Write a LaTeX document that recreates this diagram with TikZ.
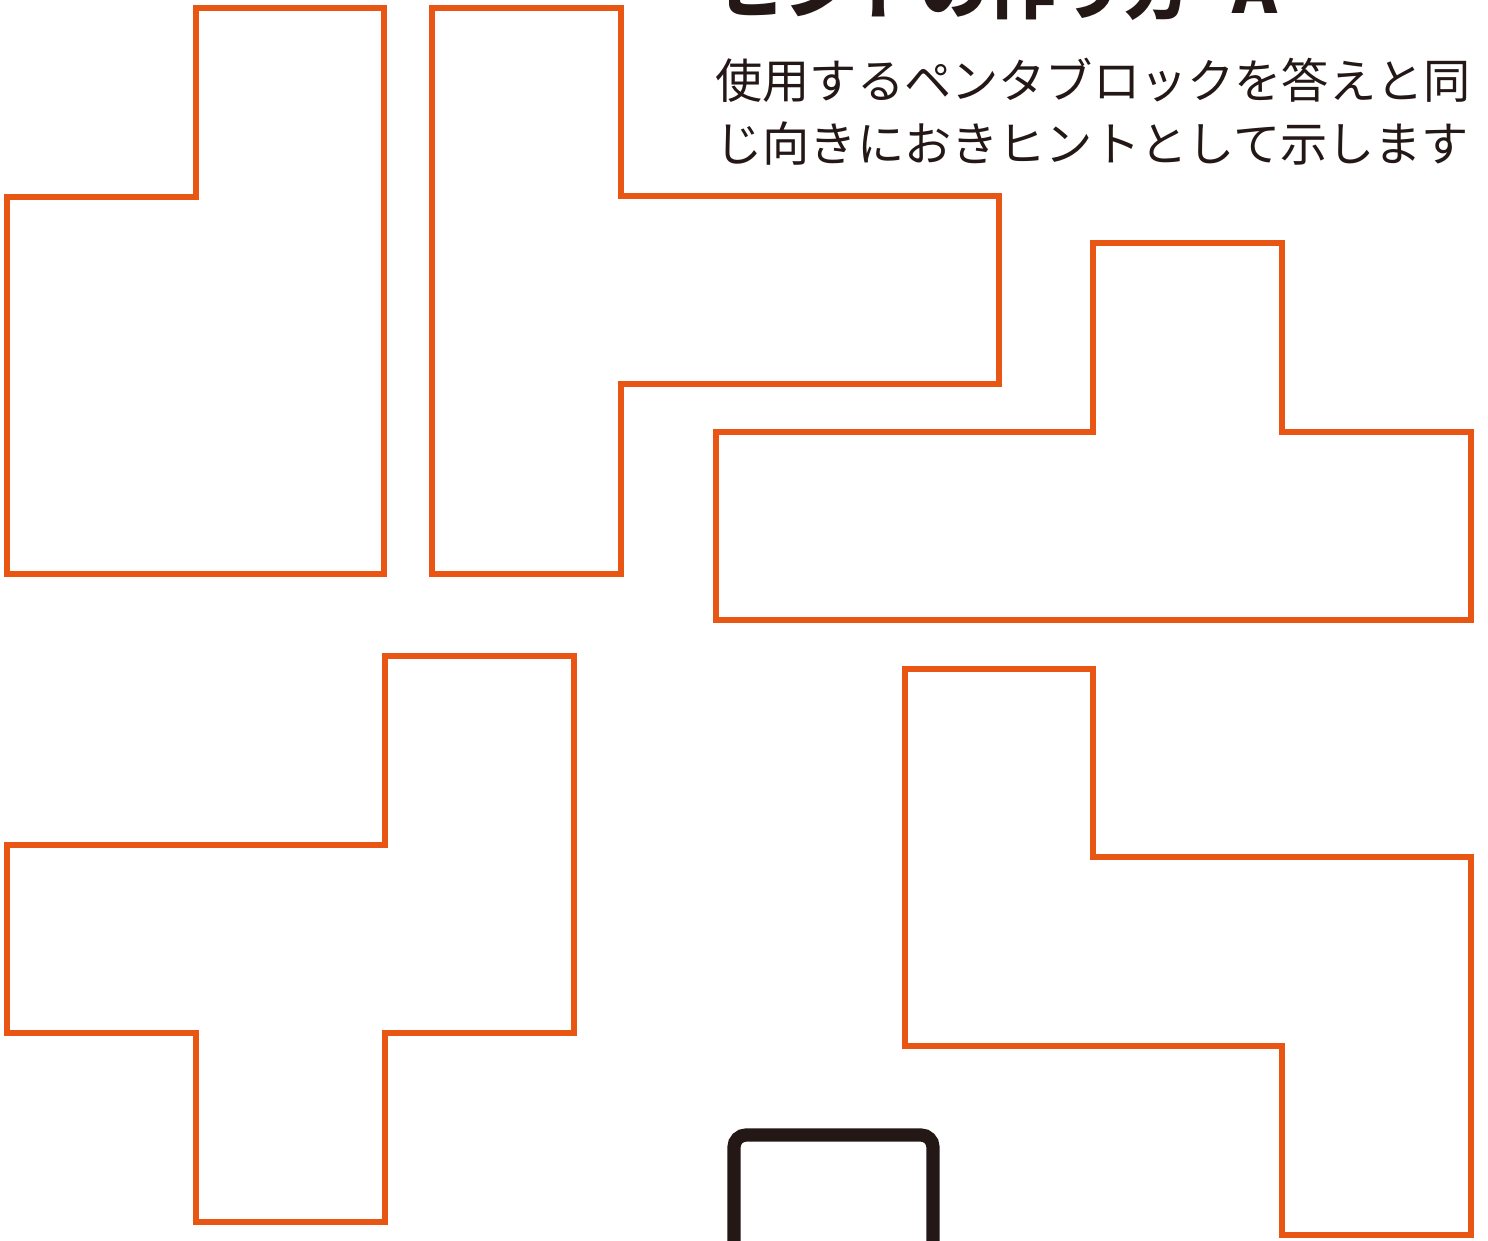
\documentclass[tikz,border=0pt]{standalone}
\usepackage{fontspec}
\newfontfamily\cjk{Noto Sans CJK JP}
\definecolor{pentaorange}{HTML}{E95513}
\definecolor{inkblack}{HTML}{231815}
\tikzset{
  piece/.style={draw=pentaorange, line width=2.6pt, line join=miter},
  hintbox/.style={draw=inkblack, line width=6.6pt, rounded corners=6pt},
  subtext/.style={inner sep=0pt, anchor=base west, text=inkblack, font=\cjk\fontsize{23.6pt}{23.6pt}\selectfont},
  titletext/.style={inner sep=0pt, anchor=base west, text=inkblack, font=\cjk\bfseries\fontsize{34pt}{34pt}\selectfont}
}
\begin{document}
\begin{tikzpicture}[x=0.5pt, y=-0.5pt]
\useasboundingbox (0,0) rectangle (1488,1241);
\clip (0,0) rectangle (1488,1241);
\fill[white] (0,0) rectangle (1488,1241);
% title (cut at top)
\node[titletext] (title) at (716,14) {ヒントの作り方\hspace{20pt}A};
\node[subtext] (line1) at (715,99) {使用するペンタブロックを答えと同};
\node[subtext] (line2) at (715,162) {じ向きにおきヒントとして示します};
% pieces
\draw[piece] (196,8) -- (384,8) -- (384,574) -- (7,574) -- (7,197) -- (196,197) -- cycle;
\draw[piece] (432,8) -- (621,8) -- (621,196) -- (999,196) -- (999,384) -- (621,384) -- (621,574) -- (432,574) -- cycle;
\draw[piece] (1093,243) -- (1282,243) -- (1282,432) -- (1471,432) -- (1471,620) -- (716,620) -- (716,432) -- (1093,432) -- cycle;
\draw[piece] (385,656) -- (574,656) -- (574,1033) -- (385,1033) -- (385,1222) -- (196,1222) -- (196,1033) -- (7,1033) -- (7,845) -- (385,845) -- cycle;
\draw[piece] (905,669) -- (1093,669) -- (1093,857) -- (1471,857) -- (1471,1235) -- (1282,1235) -- (1282,1046) -- (905,1046) -- cycle;
% black hint box (cut at bottom)
\draw[hintbox] (734,1270) -- (734,1135) -- (933,1135) -- (933,1270);
\end{tikzpicture}
\end{document}
